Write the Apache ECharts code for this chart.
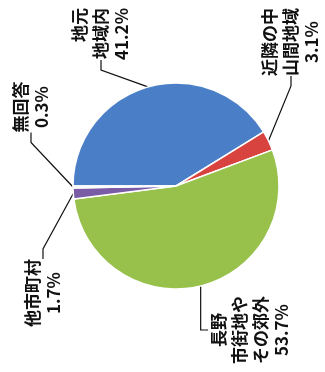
<!DOCTYPE html>
<html>
<head>
<meta charset="utf-8">
<script src="https://cdn.jsdelivr.net/npm/echarts@6/dist/echarts.min.js"></script>
<style>
  html, body { margin: 0; padding: 0; background: #fff; }
  #main { width: 325px; height: 372px; }
</style>
</head>
<body>
<div id="main"></div>
<script>
// 回答の割合 (%)
var names = ['地元\n地域内', '近隣の中\n山間地域', '長野\n市街地や\nその郊外', '他市町村', '無回答'];
var values = [41.2, 3.1, 53.7, 1.7, 0.3];
var colors = ['#4a7fc8', '#d8423f', '#98c14c', '#7a5ba6', '#e4ecf2'];

// ラベルの置き場所（回転後）
var labelPos = [[101, 8], [291, 42], [250, 330], [43, 293], [31, 107]];
var labelAlign = ['right', 'center', 'center', 'center', 'center'];

var myChart = echarts.init(document.getElementById('main'));

var seriesData = names.map(function (n, i) {
  return {
    name: n,
    value: values[i],
    itemStyle: { color: colors[i] }
  };
});

var option = {
  animation: false,
  backgroundColor: '#fff',
  series: [
    {
      type: 'pie',
      center: [176, 186],
      radius: 103,
      startAngle: 180,
      clockwise: true,
      data: seriesData,
      itemStyle: {
        borderColor: '#fff',
        borderWidth: 1.5
      },
      label: {
        show: true,
        position: 'outside',
        rotate: 90,
        fontFamily: 'Noto Sans CJK JP',
        fontWeight: 'bold',
        fontSize: 17,
        lineHeight: 21,
        color: '#111',
        formatter: function (p) {
          return p.name + '\n' + p.value.toFixed(1) + '%';
        }
      },
      labelLine: {
        show: true,
        length: 10,
        length2: 10,
        lineStyle: { color: '#111', width: 1.2 }
      },
      labelLayout: function (params) {
        var pos = labelPos[params.dataIndex];
        return {
          x: pos[0],
          y: pos[1],
          rotate: 90,
          align: labelAlign[params.dataIndex],
          verticalAlign: 'middle'
        };
      }
    }
  ]
};
option && myChart.setOption(option);
</script>
</body>
</html>
